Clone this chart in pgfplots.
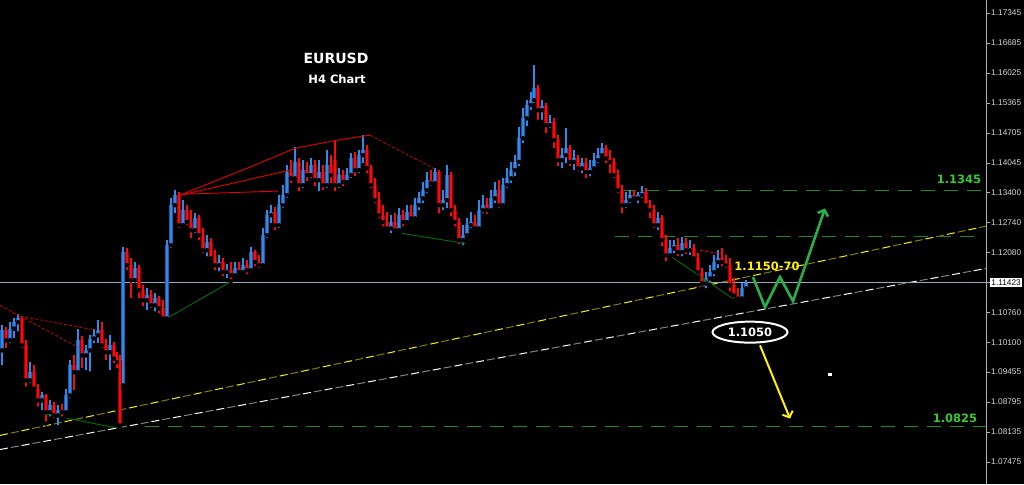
\documentclass[border=0pt]{standalone}
\usepackage{pgfplots}
\pgfplotsset{compat=1.18}
\usepackage{pgfplotstable}
\usepackage{fontspec}
\setmainfont{Liberation Sans}
\newfontfamily\dejavu{DejaVu Sans}
\usetikzlibrary{arrows.meta,shapes.geometric}

\definecolor{upbody}{RGB}{30,92,170}
\definecolor{upwick}{RGB}{45,140,235}
\definecolor{dnbody}{RGB}{165,0,0}
\definecolor{dnwick}{RGB}{250,10,10}
\definecolor{lvlgreen}{RGB}{30,135,30}
\definecolor{txtgreen}{RGB}{55,200,55}
\definecolor{wgreen}{RGB}{40,175,75}
\definecolor{patgreen}{RGB}{0,110,0}
\definecolor{pxline}{RGB}{150,170,195}
\definecolor{trendolive}{RGB}{128,128,0}
\definecolor{trendgray}{RGB}{130,130,130}
\definecolor{axisgray}{RGB}{175,175,175}
\definecolor{ticktext}{RGB}{215,215,215}

% EURUSD H4 candles: x position, open, high, low, close
\pgfplotstableread{
x o h l c
2 1.0993 1.1048 1.0956 1.1037
10 1.1015 1.1055 1.1004 1.1041
14 1.1041 1.1063 1.1015 1.1055
18 1.1055 1.1072 1.1030 1.1063
30 1.0927 1.0967 1.0916 1.0945
42 1.0883 1.0901 1.0857 1.0894
50 1.0857 1.0883 1.0843 1.0872
58 1.0850 1.0872 1.0824 1.0861
66 1.0857 1.0909 1.0848 1.0894
70 1.0894 1.0971 1.0883 1.0960
78 1.0945 1.1041 1.0938 1.1015
86 1.0982 1.1004 1.0945 1.0993
90 1.0993 1.1026 1.0942 1.1019
94 1.1019 1.1041 1.1004 1.1026
98 1.1026 1.1059 1.1004 1.1037
110 1.0989 1.1026 1.0945 1.1004
123 1.0916 1.1220 1.0909 1.1209
135 1.1147 1.1187 1.1136 1.1173
147 1.1103 1.1129 1.1077 1.1114
155 1.1092 1.1118 1.1074 1.1107
167 1.1063 1.1235 1.1059 1.1224
171 1.1224 1.1327 1.1213 1.1312
175 1.1312 1.1345 1.1290 1.1334
183 1.1268 1.1323 1.1261 1.1301
195 1.1257 1.1294 1.1246 1.1283
207 1.1213 1.1246 1.1195 1.1231
219 1.1180 1.1202 1.1162 1.1187
227 1.1165 1.1182 1.1147 1.1169
235 1.1158 1.1187 1.1151 1.1173
243 1.1165 1.1195 1.1158 1.1180
251 1.1169 1.1220 1.1165 1.1209
263 1.1180 1.1261 1.1173 1.1246
267 1.1246 1.1301 1.1235 1.1290
271 1.1290 1.1312 1.1268 1.1297
279 1.1268 1.1334 1.1257 1.1312
283 1.1312 1.1356 1.1301 1.1334
287 1.1334 1.1400 1.1323 1.1385
295 1.1371 1.1440 1.1363 1.1407
303 1.1356 1.1411 1.1345 1.1389
311 1.1378 1.1415 1.1367 1.1400
319 1.1367 1.1411 1.1338 1.1385
327 1.1356 1.1433 1.1345 1.1400
339 1.1356 1.1393 1.1345 1.1378
347 1.1363 1.1393 1.1354 1.1378
351 1.1378 1.1426 1.1367 1.1415
359 1.1389 1.1433 1.1378 1.1422
363 1.1422 1.1466 1.1400 1.1433
391 1.1261 1.1290 1.1246 1.1275
399 1.1257 1.1305 1.1253 1.1290
407 1.1275 1.1312 1.1266 1.1297
415 1.1283 1.1327 1.1275 1.1312
419 1.1312 1.1341 1.1297 1.1327
423 1.1327 1.1363 1.1312 1.1345
427 1.1345 1.1385 1.1334 1.1367
435 1.1360 1.1393 1.1354 1.1385
443 1.1312 1.1345 1.1297 1.1323
447 1.1323 1.1400 1.1301 1.1378
463 1.1235 1.1268 1.1220 1.1246
467 1.1246 1.1283 1.1239 1.1268
471 1.1268 1.1297 1.1257 1.1275
479 1.1261 1.1323 1.1257 1.1301
483 1.1301 1.1334 1.1290 1.1312
491 1.1301 1.1345 1.1294 1.1327
495 1.1327 1.1363 1.1312 1.1345
503 1.1312 1.1371 1.1305 1.1356
507 1.1356 1.1393 1.1345 1.1371
511 1.1371 1.1407 1.1356 1.1389
515 1.1389 1.1422 1.1371 1.1407
519 1.1407 1.1484 1.1393 1.1459
523 1.1459 1.1525 1.1444 1.1503
527 1.1503 1.1543 1.1481 1.1532
531 1.1532 1.1561 1.1517 1.1543
534 1.1543 1.1620 1.1532 1.1569
542 1.1521 1.1543 1.1495 1.1530
550 1.1488 1.1510 1.1477 1.1495
562 1.1411 1.1437 1.1389 1.1422
566 1.1422 1.1481 1.1400 1.1437
574 1.1407 1.1433 1.1385 1.1415
582 1.1393 1.1415 1.1378 1.1404
590 1.1385 1.1411 1.1371 1.1393
594 1.1393 1.1426 1.1385 1.1411
598 1.1411 1.1437 1.1400 1.1422
602 1.1422 1.1448 1.1415 1.1437
626 1.1312 1.1341 1.1301 1.1323
630 1.1323 1.1345 1.1312 1.1334
638 1.1327 1.1341 1.1312 1.1334
642 1.1334 1.1354 1.1323 1.1341
658 1.1268 1.1297 1.1253 1.1283
670 1.1202 1.1235 1.1195 1.1217
674 1.1217 1.1235 1.1202 1.1224
682 1.1209 1.1242 1.1195 1.1228
690 1.1213 1.1235 1.1198 1.1217
706 1.1140 1.1165 1.1125 1.1151
710 1.1151 1.1180 1.1136 1.1165
714 1.1165 1.1202 1.1151 1.1187
718 1.1187 1.1213 1.1169 1.1195
742 1.1107 1.1140 1.1099 1.1129
746 1.1129 1.1147 1.1123 1.1142
}\upcandles

\pgfplotstableread{
x o h l c
6 1.1037 1.1044 1.0993 1.1015
22 1.1063 1.1068 1.0993 1.1004
26 1.1004 1.1015 1.0909 1.0927
34 1.0945 1.0960 1.0901 1.0909
38 1.0909 1.0920 1.0865 1.0883
46 1.0894 1.0898 1.0832 1.0857
54 1.0872 1.0879 1.0839 1.0850
62 1.0861 1.0874 1.0843 1.0857
74 1.0960 1.0982 1.0901 1.0945
82 1.1015 1.1024 1.0949 1.0982
102 1.1037 1.1055 1.0993 1.1004
106 1.1004 1.1019 1.0967 1.0989
114 1.1004 1.1011 1.0960 1.0975
117 1.0975 1.0989 1.0949 1.0967
120 1.0971 1.0982 1.0821 1.0828
127 1.1209 1.1217 1.1165 1.1180
131 1.1180 1.1195 1.1103 1.1147
139 1.1173 1.1180 1.1103 1.1125
143 1.1125 1.1136 1.1085 1.1103
151 1.1114 1.1125 1.1081 1.1092
159 1.1107 1.1112 1.1070 1.1085
163 1.1085 1.1103 1.1055 1.1063
179 1.1334 1.1341 1.1257 1.1268
187 1.1301 1.1312 1.1264 1.1275
191 1.1275 1.1301 1.1235 1.1257
199 1.1283 1.1290 1.1231 1.1246
203 1.1246 1.1261 1.1202 1.1213
211 1.1231 1.1239 1.1187 1.1195
215 1.1195 1.1213 1.1165 1.1180
223 1.1187 1.1195 1.1151 1.1165
231 1.1169 1.1187 1.1145 1.1158
239 1.1173 1.1187 1.1156 1.1165
247 1.1180 1.1191 1.1156 1.1169
255 1.1209 1.1213 1.1173 1.1187
259 1.1187 1.1202 1.1169 1.1180
275 1.1297 1.1308 1.1253 1.1268
291 1.1385 1.1411 1.1356 1.1371
299 1.1407 1.1415 1.1338 1.1356
307 1.1389 1.1407 1.1360 1.1378
315 1.1400 1.1411 1.1349 1.1367
323 1.1385 1.1400 1.1341 1.1356
331 1.1400 1.1422 1.1356 1.1378
335 1.1411 1.1455 1.1338 1.1356
343 1.1378 1.1389 1.1349 1.1363
355 1.1415 1.1429 1.1371 1.1389
367 1.1433 1.1444 1.1378 1.1393
371 1.1393 1.1400 1.1345 1.1356
375 1.1356 1.1371 1.1312 1.1323
379 1.1323 1.1341 1.1279 1.1290
383 1.1290 1.1312 1.1261 1.1275
387 1.1275 1.1297 1.1253 1.1261
395 1.1275 1.1294 1.1248 1.1257
403 1.1290 1.1301 1.1261 1.1275
411 1.1297 1.1312 1.1275 1.1283
431 1.1367 1.1389 1.1349 1.1360
439 1.1385 1.1389 1.1290 1.1312
451 1.1378 1.1385 1.1283 1.1301
455 1.1301 1.1312 1.1261 1.1275
459 1.1275 1.1283 1.1222 1.1235
475 1.1275 1.1290 1.1253 1.1261
487 1.1312 1.1327 1.1288 1.1301
499 1.1345 1.1367 1.1301 1.1312
538 1.1569 1.1576 1.1495 1.1521
546 1.1530 1.1536 1.1466 1.1488
554 1.1495 1.1503 1.1433 1.1455
558 1.1455 1.1466 1.1393 1.1411
570 1.1437 1.1444 1.1393 1.1407
578 1.1415 1.1422 1.1382 1.1393
586 1.1404 1.1415 1.1367 1.1385
606 1.1437 1.1444 1.1400 1.1415
610 1.1415 1.1433 1.1378 1.1407
614 1.1407 1.1415 1.1367 1.1378
618 1.1378 1.1389 1.1334 1.1345
622 1.1345 1.1356 1.1290 1.1312
634 1.1334 1.1345 1.1319 1.1327
646 1.1341 1.1349 1.1305 1.1312
650 1.1312 1.1323 1.1279 1.1301
654 1.1301 1.1312 1.1257 1.1268
662 1.1283 1.1290 1.1217 1.1235
666 1.1235 1.1246 1.1184 1.1202
678 1.1224 1.1239 1.1195 1.1209
686 1.1228 1.1239 1.1200 1.1213
694 1.1217 1.1226 1.1187 1.1195
698 1.1195 1.1206 1.1154 1.1165
702 1.1165 1.1173 1.1129 1.1140
722 1.1195 1.1217 1.1173 1.1187
726 1.1187 1.1202 1.1169 1.1180
730 1.1180 1.1195 1.1118 1.1136
734 1.1136 1.1151 1.1103 1.1114
738 1.1114 1.1129 1.1099 1.1107
}\dncandles

\begin{document}
\begin{tikzpicture}[x=1pt,y=1pt]
\path[use as bounding box] (0,0) rectangle (1024,484);
\fill[black] (0,0) rectangle (1024,484);
\begin{axis}[
  at={(0,0)}, anchor=south west,
  scale only axis, width=986pt, height=484pt,
  xmin=0, xmax=986, ymin=1.06992, ymax=1.17631,
  axis x line=none, axis y line*=right,
  axis line style={draw=axisgray, line width=0.8pt},
  ytick={1.07475,1.08135,1.08795,1.09455,1.10100,1.10760,1.12080,1.12740,1.13400,1.14045,1.14705,1.15365,1.16025,1.16685,1.17345},
  yticklabels={1.07475,1.08135,1.08795,1.09455,1.10100,1.10760,1.12080,1.12740,1.13400,1.14045,1.14705,1.15365,1.16025,1.16685,1.17345},
  tick align=outside, major tick length=4pt,
  y tick style={draw=axisgray, line width=0.8pt},
  yticklabel style={font=\fontsize{8.3}{9}\selectfont, text=ticktext, inner sep=1pt},
  extra y ticks={1.11423}, extra y tick labels={1.11423},
  extra y tick style={yticklabel style={fill=white, text=black, inner sep=1.2pt}},
  clip=false,
]
% channel lines
\addplot[trendgray, line width=1pt, dash pattern=on 8pt off 14pt, dash phase=11pt] coordinates {(0,1.0775) (986,1.1173)};
\addplot[white, line width=1pt, dash pattern=on 8pt off 14pt] coordinates {(0,1.0775) (986,1.1173)};
\addplot[trendolive, line width=1pt, dash pattern=on 8pt off 14pt, dash phase=11pt] coordinates {(0,1.0806) (986,1.1266)};
\addplot[yellow, line width=1pt, dash pattern=on 8pt off 14pt] coordinates {(0,1.0806) (986,1.1266)};
% current price
\addplot[pxline, line width=0.8pt] coordinates {(0,1.11423) (986,1.11423)};
% horizontal levels
\addplot[lvlgreen, line width=1.3pt, dash pattern=on 14pt off 9pt] coordinates {(622,1.1345) (986,1.1345)};
\addplot[lvlgreen, line width=1.3pt, dash pattern=on 14pt off 9pt] coordinates {(615,1.1244) (975,1.1244)};
\addplot[lvlgreen, line width=1.3pt, dash pattern=on 14pt off 9pt] coordinates {(145,1.0825) (986,1.0825)};

% candles: bodies then wicks
\addplot[forget plot, only marks, mark=none,
  error bars/.cd, y dir=plus, y explicit, error mark=none,
  error bar style={draw=upbody, line width=3.4pt}]
  table[x=x, y=o, y error plus expr={\thisrow{c}-\thisrow{o}}] {\upcandles};
\addplot[forget plot, only marks, mark=none,
  error bars/.cd, y dir=plus, y explicit, error mark=none,
  error bar style={draw=upwick, line width=1.1pt}]
  table[x=x, y=l, y error plus expr={\thisrow{h}-\thisrow{l}}] {\upcandles};
\addplot[forget plot, only marks, mark=none,
  error bars/.cd, y dir=plus, y explicit, error mark=none,
  error bar style={draw=dnbody, line width=3.4pt}]
  table[x=x, y=c, y error plus expr={\thisrow{o}-\thisrow{c}}] {\dncandles};
\addplot[forget plot, only marks, mark=none,
  error bars/.cd, y dir=plus, y explicit, error mark=none,
  error bar style={draw=dnwick, line width=1.1pt}]
  table[x=x, y=l, y error plus expr={\thisrow{h}-\thisrow{l}}] {\dncandles};

% pattern lines
\addplot[red!80!black, line width=0.8pt, dash pattern=on 3pt off 2pt] coordinates {(0,1.1092) (20,1.1068)};
\addplot[red!80!black, line width=0.8pt, dash pattern=on 3pt off 2pt] coordinates {(20,1.1068) (97,1.1037)};
\addplot[red!80!black, line width=0.8pt, dash pattern=on 3pt off 2pt] coordinates {(20,1.1068) (78,1.1000)};
\addplot[red!90!black, line width=0.9pt] coordinates {(180,1.1334) (250,1.1396) (295,1.1437) (337,1.1455) (370,1.1466)};
\addplot[red!90!black, line width=0.9pt] coordinates {(180,1.1334) (290,1.1389)};
\addplot[red!90!black, line width=0.9pt] coordinates {(180,1.1336) (278,1.1343)};
\addplot[red!80!black, line width=0.8pt, dash pattern=on 3pt off 2pt] coordinates {(370,1.1466) (437,1.1389)};
\addplot[red, line width=0.8pt, dash pattern=on 3pt off 2pt] coordinates {(700,1.1213) (724,1.1204)};
\addplot[patgreen, line width=0.9pt] coordinates {(43,1.0854) (120,1.0821)};
\addplot[patgreen, line width=0.9pt] coordinates {(165,1.1061) (230,1.1143)};
\addplot[patgreen, line width=0.9pt] coordinates {(402,1.1250) (465,1.1228)};
\addplot[patgreen, line width=0.9pt] coordinates {(672,1.1198) (738,1.1099)};

% scenario arrows
\addplot[wgreen, line width=2.6pt, line join=miter, -{Straight Barb[length=5pt,width=11pt]}] coordinates {(753,1.1154) (765,1.1088) (780,1.1154) (793,1.1101) (825,1.1305)};
\addplot[yellow, line width=2pt, -{Straight Barb[length=5pt,width=11pt]}] coordinates {(760,1.1004) (790,1.0843)};

% labels
\node[text=white, font=\dejavu\bfseries\fontsize{14}{16}\selectfont] at (axis cs:336,1.1635) {EURUSD};
\node[text=white, font=\dejavu\bfseries\fontsize{11.5}{13}\selectfont] at (axis cs:337,1.1589) {H4 Chart};
\node[text=yellow, font=\dejavu\bfseries\fontsize{11.5}{13}\selectfont] at (axis cs:767,1.1178) {1.1150-70};
\node[text=txtgreen, font=\dejavu\bfseries\fontsize{11.5}{13}\selectfont] at (axis cs:959,1.1369) {1.1345};
\node[text=txtgreen, font=\dejavu\bfseries\fontsize{11.5}{13}\selectfont] at (axis cs:955,1.0843) {1.0825};
\node[ellipse, draw=white, line width=2pt, minimum width=75pt, minimum height=21pt, inner sep=0pt,
  text=white, font=\dejavu\bfseries\fontsize{11.5}{13}\selectfont] at (axis cs:750,1.1033) {1.1050};
\fill[white] (axis cs:828,1.0943) rectangle (axis cs:832,1.0937);
\end{axis}
\end{tikzpicture}
\end{document}
